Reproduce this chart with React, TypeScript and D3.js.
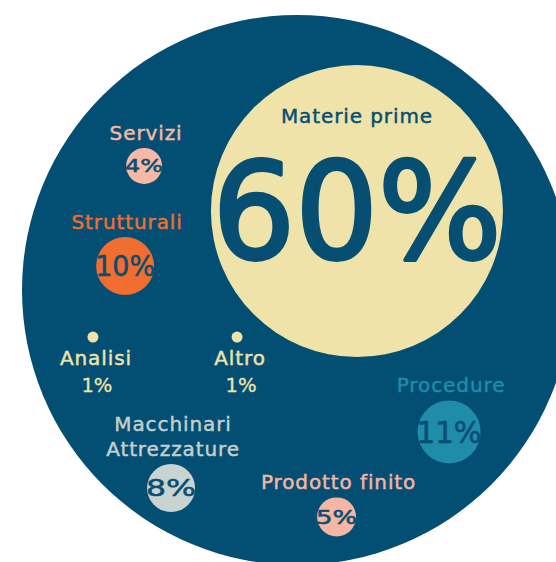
import React from "react";
import * as d3 from "d3";

// ---- data ----
const categories = [
  "Materie prime",
  "Servizi",
  "Strutturali",
  "Analisi",
  "Altro",
  "Macchinari Attrezzature",
  "Procedure",
  "Prodotto finito",
];
const values = [60, 4, 10, 1, 1, 8, 11, 5];
const labelLines = [
  ["Materie prime"],
  ["Servizi"],
  ["Strutturali"],
  ["Analisi"],
  ["Altro"],
  ["Macchinari", "Attrezzature"],
  ["Procedure"],
  ["Prodotto finito"],
];

// ---- layout (unit coordinates inside the outer circle) ----
const anchorU = [0.218, -0.556, -0.625, -0.742, -0.218, -0.458, 0.553, 0.144];
const anchorV = [-0.287, -0.451, -0.087, 0.171, 0.171, 0.72, 0.516, 0.825];

// ---- styles ----
const bubbleColors = ["#f0e3aa", "#f7b8a6", "#f26d30", "#f0e3aa", "#f0e3aa", "#c9d4d1", "#1f8ca9", "#f7b5a3"];
const labelColors = ["#034f73", "#f7b8a6", "#f26d30", "#f0e3aa", "#f0e3aa", "#c5d0ce", "#1f8ca9", "#f7b5a3"];
const OUTER = "#034f73";
const INK = "#064f72";
const W = 556;
const H = 562;
const OCX = 297;
const OCY = 290;
const OR = 275;

const LABEL_FONT = "'DejaVu Sans', sans-serif";
const PCT_FONT = "'DejaVu Sans', sans-serif";

function Label(props: { x: number; y: number; color: string; text: string }) {
  return (
    <text
      x={props.x}
      y={props.y}
      textAnchor="middle"
      fontFamily={LABEL_FONT}
      fontSize={20}
      letterSpacing={0.9}
      fill={props.color}
      stroke={props.color}
      strokeWidth={0.45}
    >
      {props.text}
    </text>
  );
}

function Pct(props: { x: number; y: number; fs: number; len: number; color: string; text: string; sw: number }) {
  return (
    <text
      x={props.x}
      y={props.y}
      textAnchor="middle"
      fontFamily={PCT_FONT}
      fontSize={props.fs}
      textLength={props.len}
      lengthAdjust="spacingAndGlyphs"
      fill={props.color}
      stroke={props.color}
      strokeWidth={props.sw}
      strokeLinejoin="round"
    >
      {props.text}
    </text>
  );
}

export default function App() {
  const x = d3.scaleLinear().domain([-1, 1]).range([OCX - OR, OCX + OR]);
  const y = d3.scaleLinear().domain([-1, 1]).range([OCY - OR, OCY + OR]);
  const r = d3
    .scaleLinear()
    .domain([1, 4, 8, 11, 60])
    .range([5.5, 18, 24, 31.5, 146]);
  const maxV = d3.max(values) as number;

  return (
    <svg
      width={W}
      height={H}
      style={{ position: "absolute", left: 0, top: 0, overflow: "hidden" }}
    >
      <circle cx={OCX} cy={OCY} r={OR} fill={OUTER} />
      {categories.map((c, i) => {
        const v = values[i];
        const cx = x(anchorU[i]);
        const cy = y(anchorV[i]);
        const rr = r(v);
        const pct = `${v}%`;
        if (v === maxV) {
          const fs = rr * 0.92;
          return (
            <g key={c}>
              <circle cx={cx} cy={cy} r={rr} fill={bubbleColors[i]} />
              <Label x={cx} y={cy - rr * 0.6} color={labelColors[i]} text={labelLines[i][0]} />
              <Pct x={cx} y={cy + fs * 0.35} fs={fs} len={rr * 1.98} color={INK} text={pct} sw={fs * 0.028} />
            </g>
          );
        }
        if (v <= 1) {
          return (
            <g key={c}>
              <circle cx={cx} cy={cy} r={rr} fill={bubbleColors[i]} />
              <Label x={cx + 3} y={cy + 28} color={labelColors[i]} text={labelLines[i][0]} />
              <Pct x={cx + 4} y={cy + 55} fs={19} len={31} color={labelColors[i]} text={pct} sw={0.3} />
            </g>
          );
        }
        const fs = rr * 0.95;
        const lines = labelLines[i];
        return (
          <g key={c}>
            <circle cx={cx} cy={cy} r={rr} fill={bubbleColors[i]} />
            {lines.map((ln, k) => (
              <Label
                key={ln}
                x={cx + 2}
                y={cy - rr - 8 - (lines.length - 1 - k) * 25}
                color={labelColors[i]}
                text={ln}
              />
            ))}
            <Pct x={cx} y={cy + fs * 0.36} fs={fs} len={rr * 2 + 2} color={INK} text={pct} sw={0.5} />
          </g>
        );
      })}
    </svg>
  );
}
